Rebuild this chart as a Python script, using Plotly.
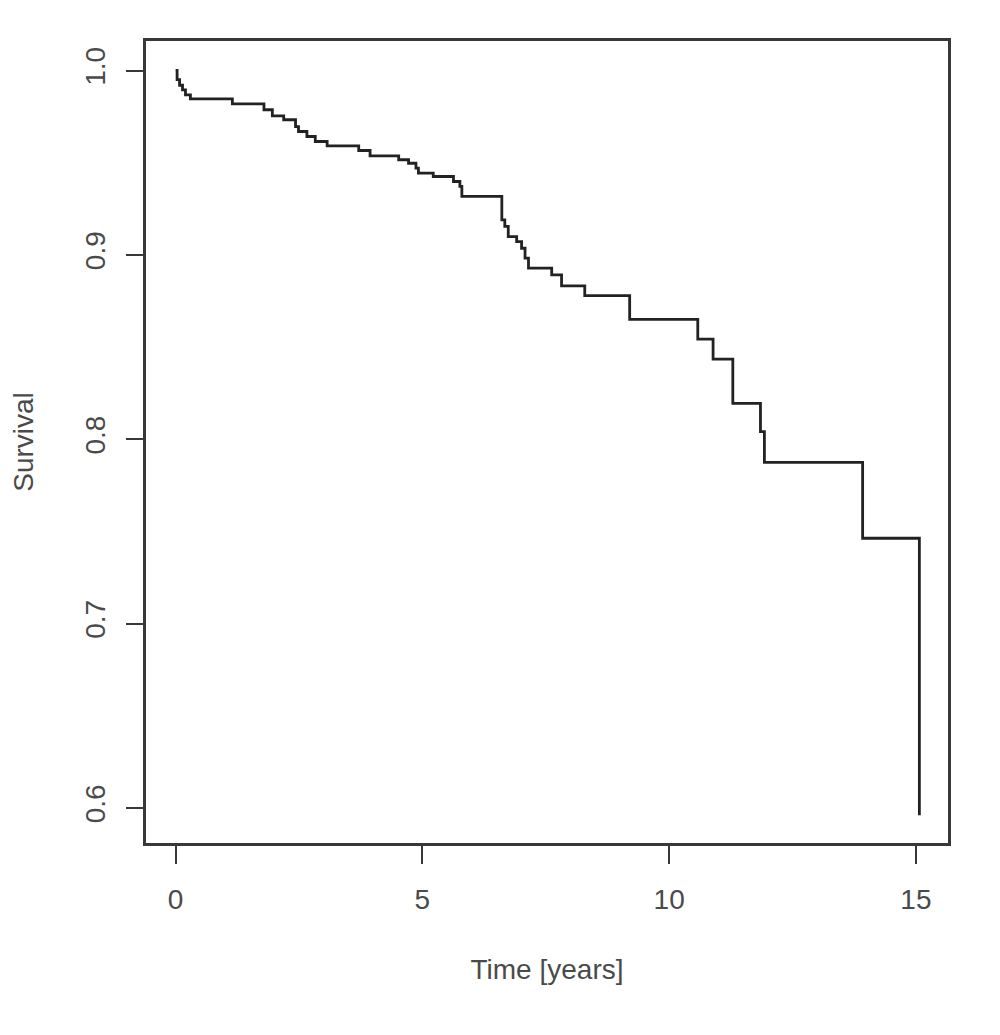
import plotly.graph_objects as go

# Kaplan-Meier estimate: time of each event and survival after it
time_years = [0, 0.03, 0.08, 0.14, 0.20, 0.30, 1.15, 1.79, 1.96, 2.19, 2.43, 2.49,
              2.66, 2.83, 3.07, 3.71, 3.94, 4.52, 4.72, 4.87, 4.92, 5.22, 5.63,
              5.76, 5.80, 6.61, 6.67, 6.74, 6.91, 7.01, 7.08, 7.15, 7.62, 7.82,
              8.29, 9.20, 10.58, 10.89, 11.29, 11.85, 11.93, 13.92, 15.07]
survival = [1.0, 0.995, 0.992, 0.9895, 0.9868, 0.9846, 0.9819, 0.9787, 0.9754,
            0.9733, 0.9696, 0.9669, 0.9642, 0.9615, 0.9591, 0.9566, 0.9537,
            0.9516, 0.9497, 0.9470, 0.9443, 0.9425, 0.9398, 0.9371, 0.9317,
            0.9190, 0.9154, 0.9099, 0.9072, 0.9036, 0.8982, 0.8928, 0.8891,
            0.8832, 0.8779, 0.8650, 0.8543, 0.8434, 0.8195, 0.8041, 0.7875,
            0.7463, 0.5960]

x_ticks = [0, 5, 10, 15]
y_ticks = [0.6, 0.7, 0.8, 0.9, 1.0]
y_tick_labels = ["0.6", "0.7", "0.8", "0.9", "1.0"]

fig = go.Figure()
fig.add_trace(go.Scatter(
    x=time_years, y=survival,
    mode="lines", line_shape="hv",
    line=dict(color="#222222", width=2.8),
    showlegend=False,
))

font = dict(family="Liberation Sans, Arial, sans-serif", size=28, color="#4a4a4a")

fig.update_layout(
    width=1000, height=1035,
    margin=dict(l=138, r=60, t=33, b=200),
    paper_bgcolor="white", plot_bgcolor="white",
    font=font,
    xaxis=dict(
        range=[-0.6, 15.65], tickvals=x_ticks, automargin=False,
        showgrid=False, zeroline=False,
        showline=True, mirror=True, linecolor="#383838", linewidth=2.5,
        ticks="outside", ticklen=18, tickwidth=2, tickcolor="#383838",
        ticklabelstandoff=12,
        title=dict(text="Time [years]", standoff=46, font=font),
    ),
    yaxis=dict(
        range=[0.581, 1.016], tickvals=y_ticks, ticktext=y_tick_labels,
        tickangle=-90, automargin=False,
        showgrid=False, zeroline=False,
        showline=True, mirror=True, linecolor="#383838", linewidth=2.5,
        ticks="outside", ticklen=17, tickwidth=2, tickcolor="#383838",
        ticklabelstandoff=10,
        title=dict(text="Survival", standoff=42, font=font),
    ),
)

fig.write_html("out.html")
